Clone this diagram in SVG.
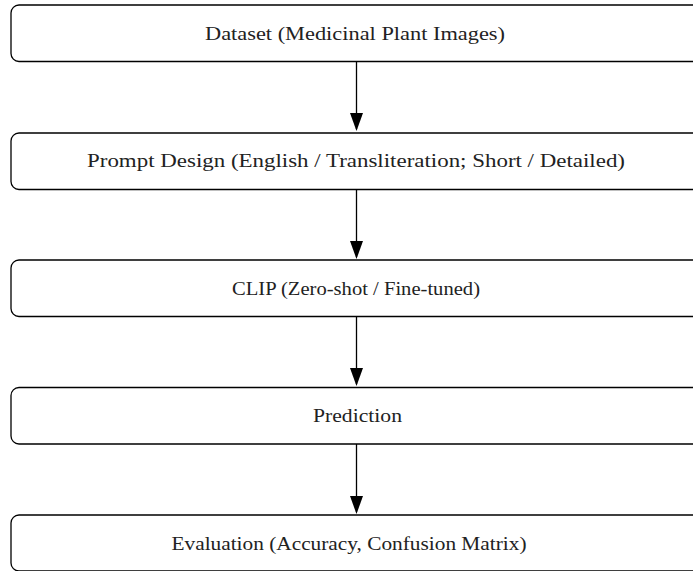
<svg xmlns="http://www.w3.org/2000/svg" width="693" height="571" viewBox="0 0 693 571">
<style>
.box{fill:#fff;stroke:#000;stroke-width:1.3}
.lbl{font-family:"Liberation Serif","DejaVu Serif",serif;font-size:18px;fill:#222;text-anchor:middle}
.edge{stroke:#000;stroke-width:1.3;fill:none;marker-end:url(#ah)}
</style>
<defs>
<marker id="ah" markerUnits="userSpaceOnUse" markerWidth="18" markerHeight="13" refX="16" refY="6.5" orient="auto" viewBox="0 0 18 13">
<path d="M0,0 L18,6.5 L0,13 Z" fill="#000"/>
</marker>
</defs>
<g id="connectors">
<line class="edge" x1="356.5" y1="62" x2="356.5" y2="129"/>
<line class="edge" x1="356.5" y1="189.5" x2="356.5" y2="257"/>
<line class="edge" x1="356.5" y1="316.5" x2="356.5" y2="384"/>
<line class="edge" x1="356.5" y1="444" x2="356.5" y2="512"/>
</g>
<g id="n1">
<rect class="box" x="11" y="5" width="690" height="56.5" rx="8"/>
<text class="lbl" x="355" y="40" textLength="300" lengthAdjust="spacingAndGlyphs">Dataset (Medicinal Plant Images)</text>
</g>
<g id="n2">
<rect class="box" x="11" y="133" width="690" height="56.5" rx="8"/>
<text class="lbl" x="356" y="167" textLength="538" lengthAdjust="spacingAndGlyphs">Prompt Design (English / Transliteration; Short / Detailed)</text>
</g>
<g id="n3">
<rect class="box" x="11" y="260" width="690" height="56.5" rx="8"/>
<text class="lbl" x="356" y="294.5" textLength="248" lengthAdjust="spacingAndGlyphs">CLIP (Zero-shot / Fine-tuned)</text>
</g>
<g id="n4">
<rect class="box" x="11" y="387.5" width="690" height="56.5" rx="8"/>
<text class="lbl" x="357.5" y="422" textLength="89" lengthAdjust="spacingAndGlyphs">Prediction</text>
</g>
<g id="n5">
<rect class="box" x="11" y="515" width="690" height="56" rx="8"/>
<text class="lbl" x="349" y="549.5" textLength="355" lengthAdjust="spacingAndGlyphs">Evaluation (Accuracy, Confusion Matrix)</text>
</g>
</svg>
